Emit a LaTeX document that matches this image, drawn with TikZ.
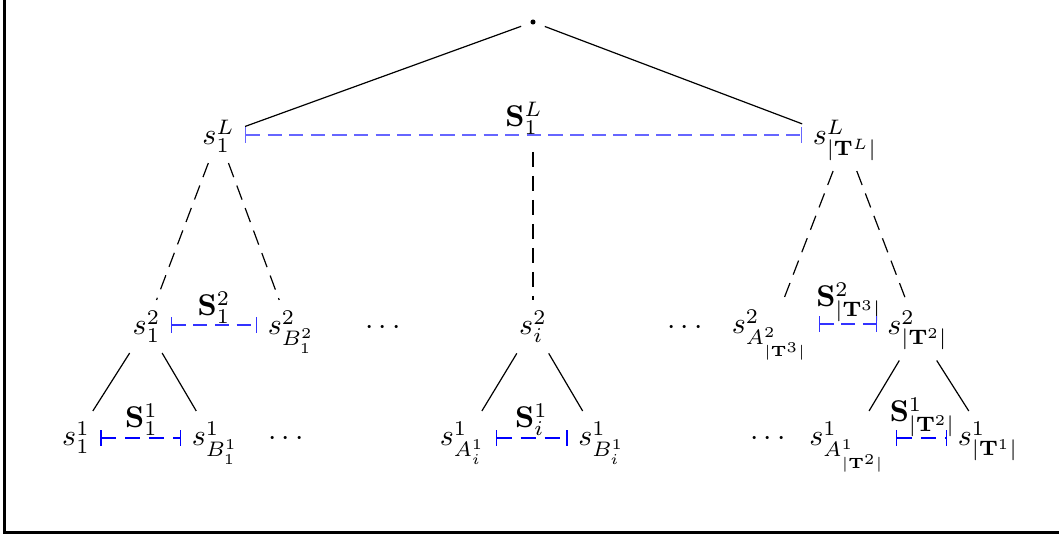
\documentclass[tikz,border=0pt]{standalone}
\usetikzlibrary{arrows}
\begin{document}
\begin{tikzpicture}[x=0.33333pt,y=-0.33333pt,
  tn/.style={anchor=base, inner sep=0.3333em},
  lab/.style={anchor=base, inner sep=0pt},
  rootnode/.style={circle, inner sep=0pt, minimum size=8pt},
  dedge/.style={dash pattern=on 5pt off 3pt},
  spanline/.style={|-|, dash pattern=on 4.7pt off 2.5pt},
  spanlow/.style={|-|, dash pattern=on 5pt off 3pt},
  dotsnode/.style={anchor=base, inner sep=0pt}]
\useasboundingbox (0,0) rectangle (1059,539);
\draw[line width=1pt] (4.5,0) -- (4.5,533) -- (1059,533);
% root
\node[rootnode] (r) at (533,22) {};
\fill (r.center) circle (0.85pt);
% level L
\node[tn] (a) at (218.5,145) {$s_1^L$};
\node[tn] (b) at (845,145) {$s^L_{|\mathbf{T}^L|}$};
\node[lab] (SL) at (524,127) {$\mathbf{S}_1^L$};
\coordinate (m) at (533,152);
% level 2
\node[tn] (c) at (146.5,335) {$s_1^2$};
\node[tn] (d) at (291,335) {$s^2_{B_1^2}$};
\node[lab] (S2a) at (214,316) {$\mathbf{S}_1^2$};
\node[dotsnode] (dt1) at (383,335) {$\cdots$};
\node[tn] (e) at (533,335) {$s_i^2$};
\node[dotsnode] (dt2) at (685,335) {$\cdots$};
\node[tn] (f) at (770,334) {$s^2_{A^2_{|\mathbf{T}^3|}}$};
\node[tn] (g) at (917.5,335) {$s^2_{|\mathbf{T}^2|}$};
\node[lab] (S2b) at (849,307) {$\mathbf{S}^2_{|\mathbf{T}^3|}$};
% level 1
\node[tn] (h) at (76,446) {$s_1^1$};
\node[tn] (i) at (215,446) {$s^1_{B_1^1}$};
\node[lab] (S1a) at (141.5,428) {$\mathbf{S}_1^1$};
\node[dotsnode] (dt3) at (286,446) {$\cdots$};
\node[tn] (j) at (462.5,446) {$s^1_{A_i^1}$};
\node[tn] (k) at (601.5,446) {$s^1_{B_i^1}$};
\node[lab] (S1b) at (531.5,428) {$\mathbf{S}_i^1$};
\node[dotsnode] (dt4) at (768,446) {$\cdots$};
\node[tn] (l) at (847.5,446) {$s^1_{A^1_{|\mathbf{T}^2|}}$};
\node[tn] (n) at (988,446) {$s^1_{|\mathbf{T}^1|}$};
\node[lab] (S1c) at (922.5,422) {$\mathbf{S}^1_{|\mathbf{T}^2|}$};
% heights of spans
\coordinate (yL) at (0,135);
\coordinate (y2) at (0,325);
\coordinate (y2b) at (0,324);
\coordinate (y1) at (0,438);
% edges
\draw (r) -- (a);
\draw (r) -- (b);
\draw[dedge] (a) -- (c);
\draw[dedge] (a) -- (d);
\draw[dedge] (m) -- (e);
\draw[dedge] (b) -- (f);
\draw[dedge] (b) -- (g);
\draw (c) -- (h);
\draw (c) -- (i);
\draw (e) -- (j);
\draw (e) -- (k);
\draw (g) -- (l);
\draw (g) -- (n);
% spans
\draw[spanline, blue!60] (a.east |- yL) -- (b.west |- yL);
\draw[spanline, blue!80] (c.east |- y2) -- (d.west |- y2);
\draw[spanline, blue!80] (f.east |- y2b) -- (g.west |- y2b);
\draw[spanlow, blue] (h.east |- y1) -- (i.west |- y1);
\draw[spanlow, blue] (j.east |- y1) -- (k.west |- y1);
\draw[spanlow, blue] (l.east |- y1) -- (n.west |- y1);
\end{tikzpicture}
\end{document}
